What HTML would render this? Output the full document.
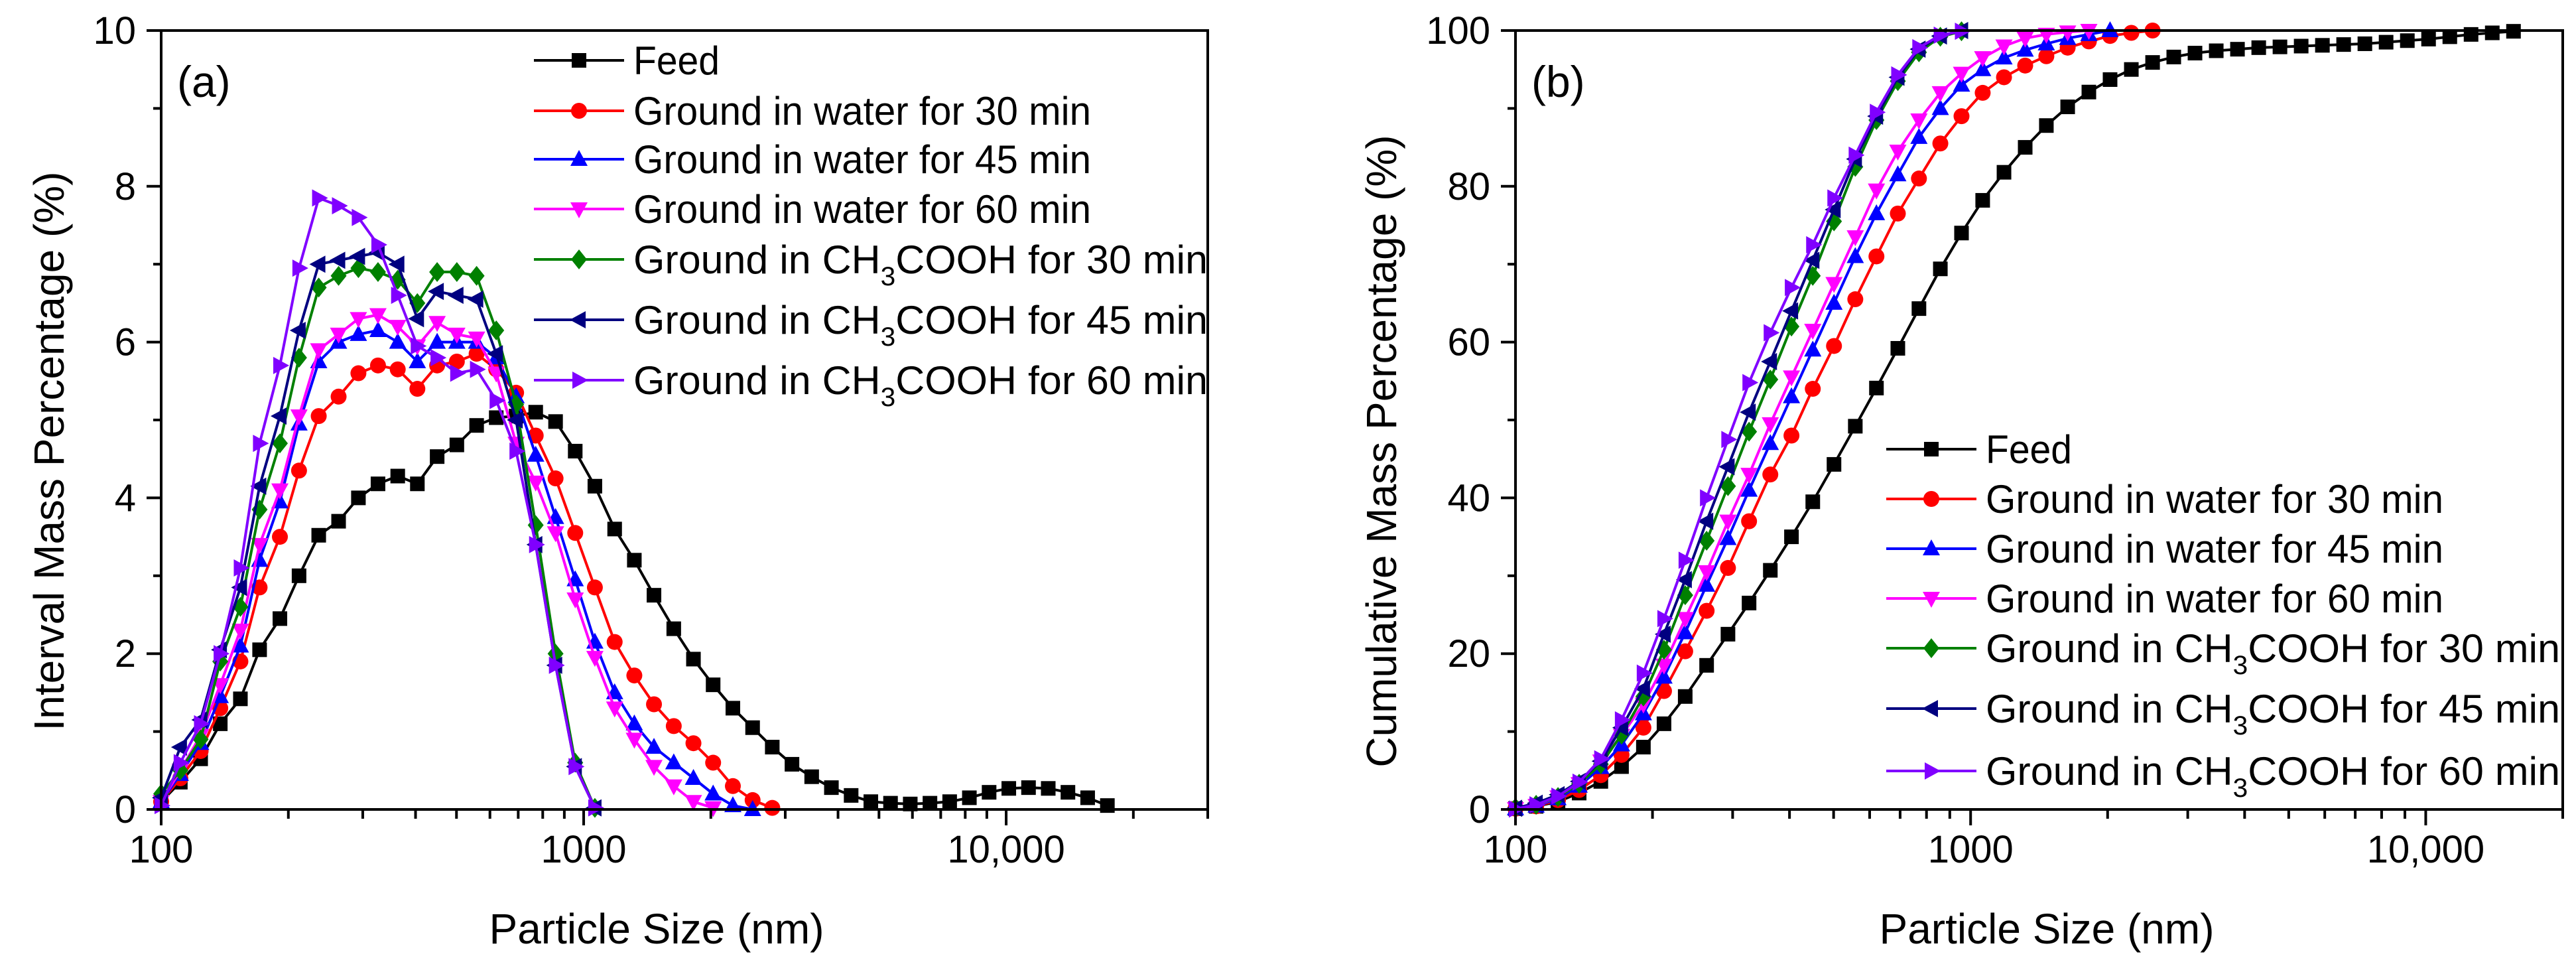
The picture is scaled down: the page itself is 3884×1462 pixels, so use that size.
<!DOCTYPE html>
<html><head><meta charset="utf-8"><style>
html,body{margin:0;padding:0;background:#fff;}
svg{display:block;font-family:"Liberation Sans",Arial,sans-serif;}
</style></head><body>
<svg id="fig" width="3884" height="1462" viewBox="0 0 3884 1462" xmlns="http://www.w3.org/2000/svg"></svg>
<script>
const sizes = [100,111,124,138,154,171,191,212,236,263,293,326,363,404,450,501,558,621,692,770,858,955,1063,1184,1318,1467,1634,1819,2025,2255,2511,2795,3112,3465,3858,4296,4783,5325,5929,6601,7350,8183,9112,10145,11296,12577,14003,15591,17360];
const seriesNames = ["Feed","Ground in water for 30 min","Ground in water for 45 min","Ground in water for 60 min","Ground in CH3COOH for 30 min","Ground in CH3COOH for 45 min","Ground in CH3COOH for 60 min"];
// panel (a) interval mass %
const aFeed = [0.1,0.35,0.65,1.1,1.42,2.05,2.45,3.0,3.52,3.7,4.0,4.18,4.28,4.18,4.53,4.68,4.93,5.03,5.05,5.1,4.98,4.6,4.15,3.6,3.2,2.75,2.32,1.93,1.6,1.3,1.05,0.8,0.58,0.42,0.28,0.18,0.1,0.08,0.07,0.08,0.1,0.15,0.22,0.27,0.28,0.27,0.22,0.15,0.05];
const aW30 = [0.1,0.4,0.75,1.3,1.9,2.85,3.5,4.35,5.05,5.3,5.6,5.7,5.65,5.4,5.7,5.75,5.85,5.65,5.35,4.8,4.25,3.55,2.85,2.15,1.72,1.35,1.07,0.85,0.6,0.3,0.12,0.02];
const aW45 = [0.1,0.45,0.85,1.45,2.1,3.2,3.95,4.95,5.75,6.0,6.1,6.15,6.0,5.75,6.0,6.0,6.0,5.8,5.3,4.55,3.75,2.95,2.15,1.5,1.1,0.8,0.6,0.4,0.2,0.05,0.0];
const aW60 = [0.1,0.5,0.95,1.6,2.3,3.4,4.1,5.05,5.9,6.1,6.3,6.35,6.2,5.95,6.25,6.1,6.05,5.6,4.7,4.2,3.55,2.7,1.95,1.3,0.9,0.55,0.3,0.1,0.02];
const aC30 = [0.2,0.5,0.9,1.9,2.6,3.85,4.7,5.8,6.7,6.85,6.95,6.9,6.8,6.5,6.9,6.9,6.85,6.15,5.2,3.65,2.0,0.6,0.02];
const aC45 = [0.15,0.8,1.15,2.05,2.85,4.15,5.05,6.15,7.0,7.05,7.1,7.15,7.0,6.3,6.65,6.6,6.55,5.85,5.0,3.4,1.85,0.55,0.02];
const aC60 = [0.05,0.6,1.1,2.0,3.1,4.7,5.7,6.95,7.85,7.75,7.6,7.25,6.6,5.95,5.8,5.6,5.65,5.25,4.6,3.4,1.85,0.55,0.02];
// panel (b) cumulative mass %
const bFeed = [0.1,0.4,1.0,2.1,3.6,5.5,8.0,11.0,14.5,18.5,22.5,26.5,30.7,35.0,39.5,44.3,49.2,54.1,59.2,64.3,69.4,74.0,78.2,81.8,85.0,87.8,90.2,92.1,93.7,95.0,95.9,96.6,97.1,97.4,97.6,97.8,97.9,98.0,98.1,98.2,98.3,98.5,98.7,98.9,99.2,99.5,99.7,99.9];
const bW30 = [0.1,0.4,1.2,2.5,4.4,7,10.5,15.2,20.3,25.5,31,37,43,48,54,59.5,65.5,71,76.5,81,85.5,89,92,94,95.5,96.7,97.8,98.6,99.3,99.7,100];
const bW45 = [0.1,0.45,1.4,3.0,5.4,8.3,12.3,17,22.7,28.8,34.8,41,47,53,59,65,71,76.5,81.5,86.3,90,93,95,96.5,97.5,98.3,99,99.5,100];
const bW60 = [0.1,0.5,1.6,3.3,6.2,9.5,13.5,18.5,24.5,30.5,37,43,49.5,55.5,61.5,67.5,73.5,79.5,84.5,88.5,92,94.5,96.5,98,99,99.5,99.8,100];
const bC30 = [0.2,0.6,1.6,3.3,5.8,9.6,14.5,20.5,27.5,34.5,41.5,48.5,55.2,62,68.5,75.5,82.5,88.5,93.5,97.2,99.2,99.9];
const bC45 = [0.15,0.8,1.9,3.6,6.2,10.5,15.5,22.5,29.5,37,44,51,57.5,64,70.5,77,83.5,89,94,97.6,99.3,100];
const bC60 = [0.05,0.6,1.7,3.5,6.5,11.5,17.5,24.5,32,40,47.5,54.8,61.2,67,72.5,78.5,84,89.5,94.3,97.8,99.4,99.9];
const aTicks = [0,2,4,6,8,10];
const bTicks = [0,20,40,60,80,100];
const xTickVals = [100,1000,10000];
const xTickLabels = ["100","1000","10,000"];

const colors = ["#000000","#ff0000","#0000ff","#ff00ff","#008000","#000080","#8000ff"];
const markers = ["square","circle","up","down","diamond","left","right"];
const NS="http://www.w3.org/2000/svg";
const svg=document.getElementById('fig');
function el(tag,attrs,parent){const e=document.createElementNS(NS,tag);for(const k in attrs)e.setAttribute(k,attrs[k]);(parent||svg).appendChild(e);return e;}

function marker(g,type,x,y,c){
  const s=12;let e;
  if(type==="square") e=el('rect',{x:x-s+1,y:y-s+1,width:2*s-2,height:2*s-2,fill:c},g);
  else if(type==="circle") e=el('circle',{cx:x,cy:y,r:s,fill:c},g);
  else {
    let p;
    if(type==="up") p=[[x,y-s-2],[x+s+1,y+s-2],[x-s-1,y+s-2]];
    else if(type==="down") p=[[x,y+s+2],[x+s+1,y-s+2],[x-s-1,y-s+2]];
    else if(type==="diamond") p=[[x,y-s-3],[x+s,y],[x,y+s+3],[x-s,y]];
    else if(type==="left") p=[[x-s-2,y],[x+s-2,y-s-1],[x+s-2,y+s+1]];
    else p=[[x+s+2,y],[x-s+2,y-s-1],[x-s+2,y+s+1]];
    e=el('polygon',{points:p.map(q=>q.join(',')).join(' '),fill:c},g);
  }
  
  
}

function panel(o){
  const g=el('g',{});
  
  
  const L=o.left,R=o.right,T=46,B=1220;
  const lmin=2,lmax=Math.log10(o.xmax);
  const X=v=>L+(Math.log10(v)-lmin)/(lmax-lmin)*(R-L);
  const Y=v=>B-(v/o.ymax)*(B-T);
  // series
  o.series.forEach((vals,si)=>{
    const sg=el('g',{},g);
    
    
    const pts=vals.map((v,i)=>[X(sizes[i]),Y(v)]);
    const pl=el('polyline',{points:pts.map(p=>p[0].toFixed(1)+','+p[1].toFixed(1)).join(' '),fill:'none',stroke:colors[si],'stroke-width':4,'stroke-linejoin':'round'},sg);
    
    
    pts.forEach(p=>marker(sg,markers[si],p[0],p[1],colors[si]));
  });
  // frame
  const fr=el('rect',{x:L,y:T,width:R-L,height:B-T,fill:'none',stroke:'#000','stroke-width':4},g);
  
  
  // y ticks
  o.yTicks.forEach((v,i)=>{
    const y=Y(v);
    el('line',{x1:L-22,x2:L,y1:y,y2:y,stroke:'#000','stroke-width':4},g);
    if(i<o.yTicks.length-1){const ym=Y(v+o.yStep/2);el('line',{x1:L-12,x2:L,y1:ym,y2:ym,stroke:'#000','stroke-width':4},g);}
    const t=el('text',{x:L-38,y:y+20,'font-size':58,'text-anchor':'end'},g);
    t.textContent=String(v);
    
    
  });
  // x ticks
  for(let d=100;d<o.xmax;d*=10){
    for(let m=1;m<10;m++){
      const v=d*m; if(v>o.xmax) break;
      const x=X(v);
      el('line',{x1:x,x2:x,y1:B,y2:B+(m===1?24:14),stroke:'#000','stroke-width':4},g);
    }
  }
  xTickVals.forEach((v,i)=>{
    const t=el('text',{x:X(v),y:1300,'font-size':58,'text-anchor':'middle'},g);
    t.textContent=xTickLabels[i];
    
    
  });
  // titles
  const xt=el('text',{x:o.xTitleX,y:1422,'font-size':64,'text-anchor':'middle'},g);
  xt.textContent='Particle Size (nm)';
  
  
  const yt=el('text',{x:0,y:0,'font-size':64,'text-anchor':'middle',transform:'translate('+o.yTitleX+',680) rotate(-90)'},g);
  yt.textContent=o.yTitle;
  
  
  const pl=el('text',{x:L+24,y:146,'font-size':66},g);
  pl.textContent=o.label;
  
  
  // legend
  const lg=el('g',{},g);
  
  
  seriesNames.forEach((n,i)=>{
    const y=o.legY[i];
    const e=el('g',{},lg);
    
    
    el('line',{x1:o.legX,x2:o.legX+136,y1:y,y2:y,stroke:colors[i],'stroke-width':4},e);
    marker(e,markers[i],o.legX+68,y,colors[i]);
    const t=el('text',{x:o.legX+150,y:y+21,'font-size':60},e);
    if(n.indexOf('CH3')>=0){
      t.appendChild(document.createTextNode('Ground in CH'));
      const s=el('tspan',{'font-size':40,dy:18},t);s.textContent='3';
      const r=el('tspan',{dy:-18},t);r.textContent=n.split('CH3')[1];
    } else t.textContent=n;
    t.setAttribute('textLength', n.indexOf('CH3')>=0?866:(n==='Feed'?130:690));
    t.setAttribute('lengthAdjust','spacingAndGlyphs');
  });
}

panel({name:'panel-a',left:243,right:1821,xmax:30000,ymax:10,yStep:2,yTicks:aTicks,
  series:[aFeed,aW30,aW45,aW60,aC30,aC45,aC60],label:'(a)',yTitle:'Interval Mass Percentage (%)',
  yTitleX:96,xTitleX:990,legX:805,legY:[91,167,240,315,391,482,573]});
panel({name:'panel-b',left:2285,right:3864,xmax:20000,ymax:100,yStep:20,yTicks:bTicks,
  series:[bFeed,bW30,bW45,bW60,bC30,bC45,bC60],label:'(b)',yTitle:'Cumulative Mass Percentage (%)',
  yTitleX:2105,xTitleX:3086,legX:2844,legY:[677,752,827,902,977,1068,1162]});
</script>
</body></html>
